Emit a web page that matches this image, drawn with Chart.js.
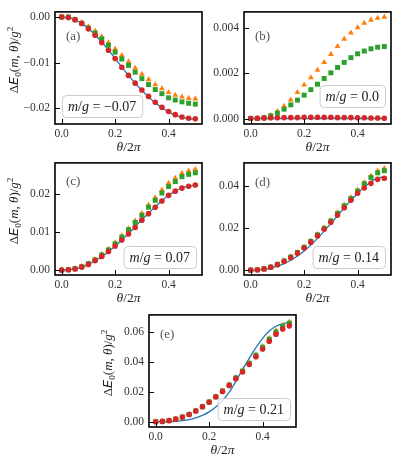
<!DOCTYPE html>
<html>
<head>
<meta charset="utf-8">
<script src="https://cdn.jsdelivr.net/npm/chart.js@4.4.1/dist/chart.umd.min.js"></script>
<style>
  html, body { margin: 0; padding: 0; background: #fff; }
  body { width: 399px; height: 462px; position: relative; overflow: hidden; }
  canvas { position: absolute; }
</style>
</head>
<body>
<canvas id="pa"></canvas>
<canvas id="pb"></canvas>
<canvas id="pc"></canvas>
<canvas id="pd"></canvas>
<canvas id="pe"></canvas>
<script>
// theta / 2pi sampling
const theta = [0, 0.025, 0.05, 0.075, 0.1, 0.125, 0.15, 0.175, 0.2, 0.225, 0.25,
               0.275, 0.3, 0.325, 0.35, 0.375, 0.4, 0.425, 0.45, 0.475, 0.5];
const xTicks = [0, 0.2, 0.4];
const massLabels = ["−0.07", "0.0", "0.07", "0.14", "0.21"];
const tags = ["(a)", "(b)", "(c)", "(d)", "(e)"];

// (a) m/g = -0.07
const blueA   = [0, -0.0001, -0.0006, -0.0014, -0.0025, -0.0039, -0.0055, -0.0072, -0.0091, -0.0110, -0.0128, -0.0145, -0.0161, -0.0175, -0.0188, -0.0199, -0.0208, -0.0215, -0.0220, -0.0223, -0.0224];
const redA    = [0, -0.0001, -0.0006, -0.0014, -0.0026, -0.0040, -0.0056, -0.0073, -0.0091, -0.0110, -0.0128, -0.0145, -0.0160, -0.0174, -0.0187, -0.0198, -0.0207, -0.0214, -0.0219, -0.0222, -0.0223];
const greenA  = [0, 0, -0.0006, -0.0014, -0.0024, -0.0035, -0.0048, -0.0062, -0.0077, -0.0092, -0.0106, -0.0121, -0.0135, -0.0148, -0.0159, -0.0168, -0.0177, -0.0182, -0.0186, -0.0189, -0.0191];
const orangeA = [0, 0, -0.0005, -0.0012, -0.0021, -0.0031, -0.0043, -0.0056, -0.0070, -0.0084, -0.0098, -0.0112, -0.0125, -0.0137, -0.0148, -0.0157, -0.0165, -0.0171, -0.0175, -0.0178, -0.0179];
const yTicksA = [0, -0.01, -0.02];

// (b) m/g = 0.0
const blueB   = [0, 0, 0, 0, 0, 0, 0, 0, 0, 0, 0, 0, 0, 0, 0, 0, 0, 0, 0, 0, 0];
const redB    = [0, 0.00001, 0.00002, 0.00003, 0.00003, 0.00004, 0.00004, 0.00004, 0.00005, 0.00005, 0.00005, 0.00005, 0.00005, 0.00004, 0.00004, 0.00004, 0.00003, 0.00003, 0.00002, 0.00002, 0.00001];
const greenB  = [0, 0, 0.00003, 0.00012, 0.00024, 0.00041, 0.00060, 0.00081, 0.00103, 0.00127, 0.00151, 0.00176, 0.00201, 0.00225, 0.00247, 0.00268, 0.00285, 0.00297, 0.00307, 0.00314, 0.00317];
const orangeB = [0, 0.00001, 0.00004, 0.00014, 0.00031, 0.00054, 0.00082, 0.00115, 0.00148, 0.00180, 0.00213, 0.00247, 0.00283, 0.00318, 0.00350, 0.00377, 0.00400, 0.00420, 0.00434, 0.00442, 0.00447];
const yTicksB = [0, 0.002, 0.004];

// (c) m/g = 0.07
const blueC   = [0, 0.0001, 0.0003, 0.0008, 0.0015, 0.0024, 0.0035, 0.0048, 0.0063, 0.0079, 0.0096, 0.0114, 0.0132, 0.0149, 0.0166, 0.0182, 0.0196, 0.0207, 0.0215, 0.0220, 0.0222];
const redC    = [0, 0.0001, 0.0003, 0.0008, 0.0015, 0.0025, 0.0036, 0.0049, 0.0063, 0.0079, 0.0095, 0.0112, 0.0131, 0.0148, 0.0165, 0.0181, 0.0196, 0.0207, 0.0215, 0.0220, 0.0223];
const greenC  = [0, 0.0001, 0.0004, 0.0009, 0.0017, 0.0027, 0.0040, 0.0053, 0.0069, 0.0087, 0.0106, 0.0125, 0.0144, 0.0165, 0.0183, 0.0202, 0.0219, 0.0232, 0.0245, 0.0251, 0.0255];
const orangeC = [0, 0.0001, 0.0004, 0.0010, 0.0017, 0.0028, 0.0041, 0.0055, 0.0072, 0.0090, 0.0109, 0.0129, 0.0149, 0.0171, 0.0190, 0.0210, 0.0228, 0.0241, 0.0254, 0.0260, 0.0264];
const yTicksC = [0, 0.01, 0.02];

// (d) m/g = 0.14
const blueD   = [0, 0.0001, 0.0004, 0.0010, 0.0019, 0.0031, 0.0047, 0.0067, 0.0091, 0.0119, 0.0151, 0.0186, 0.0222, 0.0259, 0.0296, 0.0332, 0.0365, 0.0395, 0.0421, 0.0438, 0.0445];
const redD    = [0, 0.00015, 0.0006, 0.0014, 0.0026, 0.0041, 0.0059, 0.0080, 0.0105, 0.0133, 0.0163, 0.0195, 0.0228, 0.0262, 0.0297, 0.0333, 0.0366, 0.0391, 0.0413, 0.0432, 0.0437];
const greenD  = [0, 0.00015, 0.0006, 0.0015, 0.0028, 0.0044, 0.0063, 0.0084, 0.0109, 0.0137, 0.0168, 0.0199, 0.0234, 0.0270, 0.0306, 0.0341, 0.0376, 0.0411, 0.0441, 0.0463, 0.0473];
const orangeD = [0, 0.00015, 0.0006, 0.0015, 0.0028, 0.0045, 0.0064, 0.0085, 0.0110, 0.0139, 0.0170, 0.0202, 0.0237, 0.0274, 0.0310, 0.0346, 0.0382, 0.0417, 0.0449, 0.0472, 0.0484];
const yTicksD = [0, 0.02, 0.04];

// (e) m/g = 0.21
const blueE   = [0, 0.00003, 0.0001, 0.0003, 0.0007, 0.0014, 0.0026, 0.0043, 0.0066, 0.0099, 0.0141, 0.0198, 0.0272, 0.0350, 0.0425, 0.0497, 0.0560, 0.0609, 0.0641, 0.0659, 0.0666];
const redE    = [0, 0.0002, 0.0007, 0.0017, 0.0031, 0.0048, 0.0072, 0.0100, 0.0131, 0.0166, 0.0203, 0.0243, 0.0289, 0.0334, 0.0384, 0.0436, 0.0488, 0.0540, 0.0588, 0.0623, 0.0644];
const greenE  = [0, 0.0002, 0.0007, 0.0017, 0.0031, 0.0049, 0.0073, 0.0101, 0.0133, 0.0168, 0.0206, 0.0247, 0.0294, 0.0340, 0.0392, 0.0446, 0.0500, 0.0554, 0.0603, 0.0640, 0.0662];
const orangeE = [0, 0.0002, 0.0007, 0.0017, 0.0031, 0.0049, 0.0073, 0.0102, 0.0134, 0.0169, 0.0208, 0.0249, 0.0297, 0.0344, 0.0396, 0.0451, 0.0506, 0.0561, 0.0611, 0.0649, 0.0671];
const yTicksE = [0, 0.02, 0.04, 0.06];

const BLUE = "#1f77b4", ORANGE = "#ff7f0e", GREEN = "#2ca02c", RED = "#d62728";
const SERIF = "'Liberation Serif', 'DejaVu Serif', serif";
const AXIS_W = 56, AXIS_H = 36, PAD = 8;

// plot frames in page pixels
const panels = [
  { id: "pa", l: 55,  t: 8,   r: 202, b: 124, yMin: -0.02345,  yMax: 0.00112,  dec: 2, yTicks: yTicksA, tagDy: 24.5, box: "left",  boxDy: 7,  ylabel: true,
    blue: blueA, red: redA, green: greenA, orange: orangeA },
  { id: "pb", l: 244, t: 8,   r: 391, b: 124, yMin: -0.000242, yMax: 0.004694, dec: 3, yTicks: yTicksB, tagDy: 24.5, box: "right", boxDy: 17, ylabel: false,
    blue: blueB, red: redB, green: greenB, orange: orangeB },
  { id: "pc", l: 55,  t: 159, r: 202, b: 275, yMin: -0.00127,  yMax: 0.0281,   dec: 2, yTicks: yTicksC, tagDy: 18.5, box: "right", boxDy: 7,  ylabel: true,
    blue: blueC, red: redC, green: greenC, orange: orangeC },
  { id: "pd", l: 244, t: 159, r: 391, b: 275, yMin: -0.0023,   yMax: 0.05103,  dec: 2, yTicks: yTicksD, tagDy: 19.5, box: "right", boxDy: 7,  ylabel: false,
    blue: blueD, red: redD, green: greenD, orange: orangeD },
  { id: "pe", l: 149, t: 311, r: 296, b: 427, yMin: -0.00357,  yMax: 0.07175,  dec: 2, yTicks: yTicksE, tagDy: 19.5, box: "right", boxDy: 7,  ylabel: true,
    blue: blueE, red: redE, green: greenE, orange: orangeE }
];

function fmt(v, d) {
  return (v < 0 ? "−" : "") + Math.abs(v).toFixed(d);
}

function pts(arr) {
  return theta.map((x, i) => ({ x: x, y: arr[i] }));
}

// mixed italic / upright math text
function runFont(st, size) {
  if (st === "cal") return "italic " + size + "px 'DejaVu Sans', 'DejaVu Serif', sans-serif";
  const s = (st === "sub" || st === "sup") ? size * 0.7 : size;
  return (st === "i" ? "italic " : "") + s + "px " + SERIF;
}
function runsWidth(ctx, runs, size) {
  let w = 0;
  runs.forEach(([txt, st]) => { ctx.font = runFont(st, size); w += ctx.measureText(txt).width; });
  return w;
}
function drawRuns(ctx, runs, x, y, size) {
  ctx.textAlign = "left";
  ctx.textBaseline = "alphabetic";
  runs.forEach(([txt, st]) => {
    ctx.font = runFont(st, size);
    let dy = 0;
    if (st === "sub") dy = size * 0.22;
    if (st === "sup") dy = -size * 0.4;
    ctx.fillText(txt, x, y + dy);
    x += ctx.measureText(txt).width;
  });
}

const yTitle = [["Δ", "n"], ["E", "cal"], ["0", "sub"], ["(", "n"], ["m", "i"], [", ", "n"], ["θ", "i"], [")", "n"], ["/", "n"], ["g", "i"], ["2", "sup"]];
const xTitle = [["θ", "i"], ["/2", "n"], ["π", "i"]];

function decor(p, k) {
  return {
    id: "decor" + k,
    afterDraw(chart) {
      const { ctx, chartArea: a, scales } = chart;
      ctx.save();
      // inward ticks
      ctx.strokeStyle = "#000";
      ctx.lineWidth = 1;
      scales.x.ticks.forEach(t => {
        const px = Math.round(scales.x.getPixelForValue(t.value)) + 0.5;
        ctx.beginPath(); ctx.moveTo(px, a.bottom); ctx.lineTo(px, a.bottom - 5); ctx.stroke();
      });
      scales.y.ticks.forEach(t => {
        const py = Math.round(scales.y.getPixelForValue(t.value)) + 0.5;
        ctx.beginPath(); ctx.moveTo(a.left, py); ctx.lineTo(a.left + 5, py); ctx.stroke();
      });
      // frame
      ctx.lineWidth = 1.6;
      ctx.strokeRect(a.left, a.top, a.right - a.left, a.bottom - a.top);

      // panel tag
      ctx.fillStyle = "#555";
      ctx.font = "13px " + SERIF;
      ctx.textAlign = "left";
      ctx.textBaseline = "middle";
      ctx.fillText(tags[k], a.left + 11, a.top + p.tagDy);

      // m/g box
      const size = 14;
      const runs = [["m", "i"], ["/", "n"], ["g", "i"], [" = " + massLabels[k], "n"]];
      const tw = runsWidth(ctx, runs, size);
      const bw = tw + 12, bh = 22;
      const bx = p.box === "left" ? a.left + 7 : a.right - 6 - bw;
      const by = a.bottom - p.boxDy - bh;
      ctx.beginPath();
      ctx.roundRect(bx + 0.5, by + 0.5, bw, bh, 4);
      ctx.fillStyle = "rgba(255,255,255,0.8)";
      ctx.fill();
      ctx.strokeStyle = "#cccccc";
      ctx.lineWidth = 1;
      ctx.stroke();
      ctx.fillStyle = "#222";
      drawRuns(ctx, runs, bx + 6, by + 15.5, size);

      // axis titles
      ctx.fillStyle = "#222";
      const xs = 13.5;
      const xw = runsWidth(ctx, xTitle, xs);
      drawRuns(ctx, xTitle, (a.left + a.right) / 2 - xw / 2, a.bottom + 23 + xs * 0.32, xs);
      if (p.ylabel) {
        const ys = 13;
        const yw = runsWidth(ctx, yTitle, ys);
        ctx.translate(a.left - 41, (a.top + a.bottom) / 2 - 8);
        ctx.rotate(-Math.PI / 2);
        drawRuns(ctx, yTitle, -yw / 2, ys * 0.32, ys);
      }
      ctx.restore();
    }
  };
}

panels.forEach((p, k) => {
  const el = document.getElementById(p.id);
  const w = p.r - p.l + AXIS_W + PAD;
  const h = p.b - p.t + PAD + AXIS_H;
  el.width = w; el.height = h;
  el.style.width = w + "px"; el.style.height = h + "px";
  el.style.left = (p.l - AXIS_W) + "px";
  el.style.top = (p.t - PAD) + "px";

  const tickFont = { family: SERIF, size: 11.5 };
  new Chart(el, {
    type: "scatter",
    data: {
      datasets: [
        { type: "line", data: pts(p.blue), borderColor: BLUE, borderWidth: 1.3, pointRadius: 0,
          cubicInterpolationMode: "monotone", fill: false, order: 4 },
        { data: pts(p.orange), pointStyle: "triangle", pointRadius: 3.4, backgroundColor: ORANGE, borderWidth: 0, order: 3 },
        { data: pts(p.green), pointStyle: "rect", pointRadius: 3.5, backgroundColor: GREEN, borderWidth: 0, order: 2 },
        { data: pts(p.red), pointStyle: "circle", pointRadius: 2.8, backgroundColor: RED, borderWidth: 0, order: 1 }
      ]
    },
    options: {
      responsive: false,
      animation: false,
      devicePixelRatio: 1,
      layout: { padding: { top: PAD, right: PAD, left: 0, bottom: 0 } },
      plugins: { legend: { display: false }, tooltip: { enabled: false } },
      scales: {
        x: {
          type: "linear", min: -0.025, max: 0.525,
          grid: { display: false, drawTicks: false }, border: { display: false },
          afterBuildTicks: s => { s.ticks = xTicks.map(v => ({ value: v })); },
          afterFit: s => { s.height = AXIS_H; },
          ticks: { padding: 3, font: tickFont, color: "#333", maxRotation: 0, callback: v => fmt(v, 1) }
        },
        y: {
          type: "linear", min: p.yMin, max: p.yMax,
          grid: { display: false, drawTicks: false }, border: { display: false },
          afterBuildTicks: s => { s.ticks = p.yTicks.map(v => ({ value: v })); },
          afterFit: s => { s.width = AXIS_W; },
          ticks: { padding: 5, font: tickFont, color: "#333", callback: v => fmt(v, p.dec) }
        }
      }
    },
    plugins: [decor(p, k)]
  });
});
</script>
</body>
</html>
